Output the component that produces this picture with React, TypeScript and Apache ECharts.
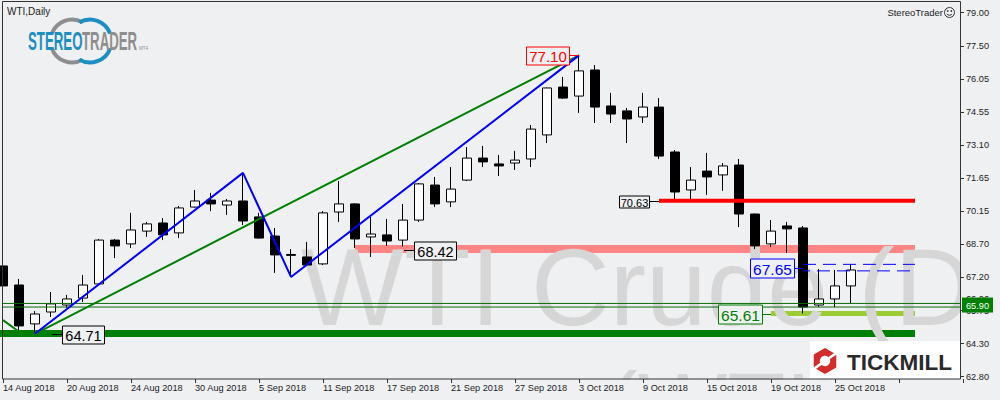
import React, { useEffect, useRef } from "react";
import * as echarts from "echarts";

// ---------- data ----------
const dates: string[] = [
  "14 Aug 2018", "15 Aug 2018", "16 Aug 2018", "17 Aug 2018", "20 Aug 2018", "21 Aug 2018", "22 Aug 2018",
  "23 Aug 2018", "24 Aug 2018", "27 Aug 2018", "28 Aug 2018", "29 Aug 2018", "30 Aug 2018", "31 Aug 2018",
  "3 Sep 2018", "4 Sep 2018", "5 Sep 2018", "6 Sep 2018", "7 Sep 2018", "10 Sep 2018", "11 Sep 2018",
  "12 Sep 2018", "13 Sep 2018", "14 Sep 2018", "17 Sep 2018", "18 Sep 2018", "19 Sep 2018", "20 Sep 2018",
  "21 Sep 2018", "24 Sep 2018", "25 Sep 2018", "26 Sep 2018", "27 Sep 2018", "28 Sep 2018",
  "1 Oct 2018", "2 Oct 2018", "3 Oct 2018", "4 Oct 2018", "5 Oct 2018", "8 Oct 2018", "9 Oct 2018",
  "10 Oct 2018", "11 Oct 2018", "12 Oct 2018", "15 Oct 2018", "16 Oct 2018", "17 Oct 2018", "18 Oct 2018",
  "19 Oct 2018", "22 Oct 2018", "23 Oct 2018", "24 Oct 2018", "25 Oct 2018", "26 Oct 2018",
];
const emptySlots = 7;

// [open, close, low, high]
const candles: number[][] = [
  [67.73, 66.84, 66.66, 68.66], [66.88, 65.06, 64.77, 67.15], [65.15, 65.59, 64.71, 65.72], [65.68, 66.04, 65.46, 66.57],
  [65.99, 66.26, 65.86, 66.44], [66.30, 66.88, 66.12, 67.33], [66.93, 68.88, 66.92, 68.93], [68.88, 68.62, 68.08, 68.93],
  [68.71, 69.33, 68.53, 70.09], [69.28, 69.60, 69.02, 69.69], [69.64, 69.11, 68.88, 69.86], [69.20, 70.31, 68.97, 70.40],
  [70.35, 70.62, 70.33, 71.11], [70.66, 70.49, 70.17, 70.98], [70.44, 70.62, 70.00, 70.71], [70.62, 69.73, 69.55, 71.87],
  [69.91, 68.97, 68.95, 70.09], [69.06, 68.22, 67.42, 69.42], [68.24, 68.20, 67.24, 68.48], [68.13, 67.77, 67.75, 68.80],
  [67.82, 70.09, 67.77, 70.17], [70.13, 70.49, 69.69, 71.51], [70.49, 68.93, 68.53, 70.52], [69.02, 69.15, 68.13, 69.91],
  [69.11, 68.84, 68.62, 69.82], [68.88, 69.77, 68.59, 70.49], [69.77, 71.38, 69.69, 71.42], [71.33, 70.49, 70.35, 71.69],
  [70.58, 71.15, 70.35, 72.13], [71.55, 72.53, 71.51, 73.02], [72.53, 72.36, 72.13, 73.07], [72.27, 72.18, 71.73, 72.67],
  [72.31, 72.44, 72.00, 72.85], [72.49, 73.82, 72.13, 74.00], [73.56, 75.65, 73.20, 75.67], [75.69, 75.20, 75.16, 76.14],
  [75.29, 76.41, 74.54, 77.10], [76.45, 74.80, 74.09, 76.67], [74.85, 74.49, 74.09, 75.43], [74.63, 74.27, 73.20, 74.76],
  [74.36, 74.80, 74.09, 75.43], [74.80, 72.62, 72.49, 75.20], [72.80, 71.02, 70.63, 72.89], [71.11, 71.55, 70.71, 72.13],
  [71.95, 71.69, 70.89, 72.76], [71.78, 72.18, 71.07, 72.31], [72.22, 70.04, 69.46, 72.49], [70.04, 68.62, 68.48, 70.06],
  [68.71, 69.28, 68.57, 69.77], [69.51, 69.38, 68.31, 69.69], [69.42, 65.90, 65.61, 69.51], [65.99, 66.26, 65.90, 67.59],
  [66.26, 66.84, 65.90, 67.55], [66.84, 67.55, 66.08, 67.82],
];

const yTickLabels = ["62.80", "64.30", "65.75", "67.20", "68.70", "70.15", "71.65", "73.10", "74.55", "76.05", "77.50", "79.00"];
const yMin = 62.8;
const yMax = 79.0;

const blueZigzag: number[][] = [[2, 64.71], [15, 71.87], [18, 67.24], [36, 77.10]];
const greenTrend: number[][] = [[0, 65.32], [1, 64.80], [2, 64.71], [36, 77.10]];
const resistance: number[][] = [[41, 70.63], [57, 70.63]];
const zoneUpper: number[][] = [[50, 67.80], [57, 67.80]];
const zoneLower: number[][] = [[50, 67.51], [57, 67.51]];
const bidAsk: number[] = [66.06, 65.90];
// [fromIndex, toIndex, top, bottom]
const bands: number[][] = [[22, 57, 68.66, 68.31], [48, 57, 65.72, 65.50], [0, 57, 64.88, 64.57]];
// [index, price]
const levelLabels: number[][] = [[36, 77.10], [41, 70.63], [25, 68.42], [50, 67.65], [48, 65.61], [3, 64.71]];
const watermarkTitle = "WTI Crude (D";
const watermarkSymbol = "(WTI)";

// ---------- styles ----------
const FONT = '"Liberation Sans", Arial, sans-serif';
const BG = "#eff0f2";
const bandColors = ["#ff8484", "#9acd32", "#008000"];
const labelStyles = [
  { color: "#ff0000", side: -1, gap: 10, w: 43, h: 18, size: 15 },
  { color: "#000000", side: -1, gap: 10, w: 30, h: 12, size: 11 },
  { color: "#000000", side: 1, gap: 11, w: 42, h: 18, size: 14.5 },
  { color: "#0000ff", side: -1, gap: 9, w: 44, h: 19, size: 15.5 },
  { color: "#008000", side: -1, gap: 9, w: 44, h: 19, size: 15.5 },
  { color: "#000000", side: 1, gap: 11, w: 42, h: 18, size: 14.5 },
];

function slit(cx: number, cy: number, angDeg: number, r0: number, r1: number, hw: number) {
  const a = (angDeg * Math.PI) / 180;
  const dx = Math.cos(a), dy = Math.sin(a);
  const nx = -dy, ny = dx;
  return [
    [cx + r0 * dx + hw * nx, cy + r0 * dy + hw * ny],
    [cx + r1 * dx + hw * nx, cy + r1 * dy + hw * ny],
    [cx + r1 * dx - hw * nx, cy + r1 * dy - hw * ny],
    [cx + r0 * dx - hw * nx, cy + r0 * dy - hw * ny],
  ];
}

function hexPoints(cx: number, cy: number, r: number) {
  const pts: number[][] = [];
  for (let k = 0; k < 6; k++) {
    const a = ((-90 + 60 * k) * Math.PI) / 180;
    pts.push([cx + r * Math.cos(a), cy + r * Math.sin(a)]);
  }
  return pts;
}

function buildOption() {
  const categories = [...dates];
  for (let k = 0; k < emptySlots; k++) categories.push("__pad" + k);
  const lastIdx = categories.length - 1;
  const yInterval = (yMax - yMin) / (yTickLabels.length - 1);

  const line = (data: number[][], color: string, width: number, type: any = "solid", extra: any = {}) => ({
    type: "line",
    data,
    symbol: "none",
    silent: true,
    z: 4,
    lineStyle: { color, width, type, ...extra },
  });

  const D = Math.PI / 180;

  return {
    animation: false,
    backgroundColor: BG,
    grid: { left: 3, right: 37, top: 12.7, bottom: 23.3, containLabel: false },
    xAxis: {
      type: "category",
      data: categories,
      boundaryGap: false,
      offset: 2.3,
      z: 7,
      axisLine: { show: false },
      axisTick: { show: true, interval: 3, length: 4, lineStyle: { color: "#333" } },
      axisLabel: {
        interval: 3,
        align: "left",
        margin: 4.5,
        fontSize: 9.2,
        fontFamily: FONT,
        color: "#222",
        formatter: (v: string) => (v.indexOf("__pad") === 0 ? "" : v),
      },
      splitLine: { show: false },
    },
    yAxis: {
      type: "value",
      position: "right",
      min: yMin,
      max: yMax,
      interval: yInterval,
      offset: -2,
      z: 7,
      axisLine: { show: false },
      axisTick: { show: true, length: 3, lineStyle: { color: "#333" } },
      axisLabel: {
        margin: 5,
        fontSize: 9.2,
        fontFamily: FONT,
        color: "#222",
        showMinLabel: true,
        showMaxLabel: true,
        formatter: (v: number) => yTickLabels[Math.round((v - yMin) / yInterval)] ?? "",
      },
      splitLine: { show: false },
    },
    graphic: [
      // watermark
      { type: "text", z: 2, silent: true, x: 301, y: 287, style: { text: watermarkTitle, fill: "#d6d6d6", fontSize: 109, fontFamily: FONT, align: "left", verticalAlign: "middle" } },
      { type: "text", z: 2, silent: true, x: 606, y: 406, style: { text: watermarkSymbol, fill: "#d6d6d6", fontSize: 95, fontFamily: FONT, align: "left", verticalAlign: "middle" } },
      // covers outside plot
      { type: "rect", z: 6, silent: true, shape: { x: 961, y: 0, width: 39, height: 400 }, style: { fill: BG } },
      { type: "rect", z: 6, silent: true, shape: { x: 0, y: 379.5, width: 1000, height: 21 }, style: { fill: BG } },
      // border
      { type: "rect", z: 7, silent: true, shape: { x: 2.5, y: 1.5, width: 958, height: 377.5 }, style: { fill: "none", stroke: "#333", lineWidth: 1 } },
      // titles
      { type: "text", z: 6, x: 7, y: 11, style: { text: "WTI,Daily", fill: "#222", fontSize: 10, fontFamily: FONT, align: "left", verticalAlign: "middle" } },
      { type: "text", z: 6, x: 943, y: 12.7, style: { text: "StereoTrader", fill: "#222", fontSize: 9.5, fontFamily: FONT, align: "right", verticalAlign: "middle" } },
      { type: "circle", z: 6, shape: { cx: 949.5, cy: 12.5, r: 5 }, style: { fill: "none", stroke: "#333", lineWidth: 1 } },
      { type: "circle", z: 6, shape: { cx: 947.7, cy: 11, r: 0.8 }, style: { fill: "#333" } },
      { type: "circle", z: 6, shape: { cx: 951.3, cy: 11, r: 0.8 }, style: { fill: "#333" } },
      { type: "arc", z: 6, shape: { cx: 949.5, cy: 12.5, r: 2.8, startAngle: 0.5, endAngle: Math.PI - 0.5, clockwise: true }, style: { fill: "none", stroke: "#333", lineWidth: 1 } },
      // StereoTrader logo
      { type: "arc", z: 6, shape: { cx: 72, cy: 41, r: 21.5, startAngle: 200 * D, endAngle: 300 * D, clockwise: true }, style: { fill: "none", stroke: "#8e8e8e", lineWidth: 4 } },
      { type: "arc", z: 6, shape: { cx: 72, cy: 41, r: 21.5, startAngle: 60 * D, endAngle: 160 * D, clockwise: true }, style: { fill: "none", stroke: "#8e8e8e", lineWidth: 4 } },
      { type: "arc", z: 6, shape: { cx: 90, cy: 41, r: 21.5, startAngle: 240 * D, endAngle: 340 * D, clockwise: true }, style: { fill: "none", stroke: "#1b8ec3", lineWidth: 4 } },
      { type: "arc", z: 6, shape: { cx: 90, cy: 41, r: 21.5, startAngle: 20 * D, endAngle: 120 * D, clockwise: true }, style: { fill: "none", stroke: "#1b8ec3", lineWidth: 4 } },
      { type: "text", z: 6, x: 28, y: 41.3, scaleX: 0.53, style: { text: "STEREO", fill: "#1b8ec3", fontSize: 25, fontWeight: "bold", fontFamily: FONT, align: "left", verticalAlign: "middle" } },
      { type: "text", z: 6, x: 82, y: 41.3, scaleX: 0.53, style: { text: "TRADER", fill: "#8e8e8e", fontSize: 25, fontWeight: "bold", fontFamily: FONT, align: "left", verticalAlign: "middle" } },
      { type: "text", z: 6, x: 139, y: 48, style: { text: "MT4", fill: "#8e8e8e", fontSize: 4.5, fontFamily: FONT, align: "left", verticalAlign: "middle" } },
      // Tickmill logo
      { type: "rect", z: 6, silent: true, shape: { x: 810, y: 341, width: 150.5, height: 38 }, style: { fill: "#ffffff" } },
      { type: "polygon", z: 6, shape: { points: hexPoints(825, 361, 13) }, style: { fill: "#d42b2b" } },
      { type: "circle", z: 6, shape: { cx: 825, cy: 361, r: 5.2 }, style: { fill: "#ffffff" } },
      { type: "polygon", z: 6, shape: { points: slit(825, 361, -35, 3, 15, 1.3) }, style: { fill: "#ffffff" } },
      { type: "polygon", z: 6, shape: { points: slit(825, 361, 145, 3, 15, 1.3) }, style: { fill: "#ffffff" } },
      { type: "text", z: 6, x: 847, y: 362, style: { text: "TICKMILL", fill: "#2a2a2a", fontSize: 22.5, fontWeight: "bold", fontFamily: FONT, align: "left", verticalAlign: "middle" } },
    ],
    series: [
      {
        type: "custom",
        name: "zones",
        z: 1,
        silent: true,
        clip: false,
        encode: { x: [0, 1], y: [2, 3] },
        data: bands,
        renderItem: (params: any, api: any) => {
          const x0 = api.value(0), x1 = api.value(1);
          const p0 = api.coord([x0, api.value(2)]);
          const p1 = api.coord([x1, api.value(3)]);
          const left = x0 === 0 ? p0[0] - 3 : p0[0];
          return {
            type: "rect",
            shape: { x: left, y: p0[1], width: p1[0] - left, height: p1[1] - p0[1] },
            style: { fill: bandColors[params.dataIndex] },
          };
        },
      },
      {
        type: "candlestick",
        name: "WTI",
        z: 3,
        clip: false,
        silent: true,
        barWidth: 9.5,
        data: candles,
        itemStyle: { color: "#ffffff", color0: "#000000", borderColor: "#000000", borderColor0: "#000000", borderWidth: 1 },
      },
      line([[0, bidAsk[0]], [lastIdx, bidAsk[0]]], "#0a6e0a", 1),
      line([[0, bidAsk[1]], [lastIdx, bidAsk[1]]], "#0a6e0a", 1),
      line(resistance, "#ff0000", 4),
      line(zoneUpper, "#0000ff", 1, [13, 7]),
      line(zoneLower, "#0000ff", 1, [13, 7], { dashOffset: 6 }),
      line(greenTrend, "#008000", 2),
      line(blueZigzag, "#0000ff", 2),
      {
        type: "custom",
        name: "levels",
        z: 5,
        silent: true,
        clip: false,
        data: levelLabels,
        renderItem: (params: any, api: any) => {
          const st = labelStyles[params.dataIndex];
          const v = api.value(1) as number;
          const pt = api.coord([api.value(0), v]);
          const ax = pt[0], ay = Math.round(pt[1]) + 0.5;
          const bx = Math.round(st.side < 0 ? ax - st.gap - st.w : ax + st.gap) + 0.5;
          const by = Math.round(ay - st.h / 2);
          const lx0 = st.side < 0 ? ax : ax + 1;
          const lx1 = st.side < 0 ? ax - st.gap : ax + st.gap;
          return {
            type: "group",
            children: [
              { type: "line", shape: { x1: lx0, y1: ay, x2: lx1, y2: ay }, style: { stroke: st.color, lineWidth: 1 } },
              { type: "rect", shape: { x: bx, y: by, width: st.w, height: st.h }, style: { fill: BG, stroke: st.color, lineWidth: 1 } },
              {
                type: "text",
                style: {
                  text: v.toFixed(2), x: bx + st.w / 2, y: by + st.h / 2 + 0.5, fill: st.color,
                  fontSize: st.size, fontFamily: FONT, align: "center", verticalAlign: "middle",
                  textAlign: "center", textVerticalAlign: "middle",
                },
              },
            ],
          };
        },
      },
      {
        type: "custom",
        name: "price",
        z: 8,
        silent: true,
        clip: false,
        data: bidAsk.map((v) => [lastIdx, v]),
        renderItem: (params: any, api: any) => {
          const v = api.value(1) as number;
          const pt = api.coord([api.value(0), v]);
          if (params.dataIndex === 0) {
            return {
              type: "text",
              style: { text: v.toFixed(2), x: pt[0] + 3, y: pt[1] - 4.5, fill: "#222", fontSize: 9.2, fontFamily: FONT, align: "left", verticalAlign: "middle", textAlign: "left", textVerticalAlign: "middle" },
            };
          }
          return {
            type: "group",
            children: [
              { type: "rect", shape: { x: pt[0] - 1, y: pt[1] - 9.5, width: 31, height: 15 }, style: { fill: "#008000" } },
              { type: "text", style: { text: v.toFixed(2), x: pt[0] + 3, y: pt[1] - 1, fill: "#ffffff", fontSize: 9.2, fontFamily: FONT, align: "left", verticalAlign: "middle", textAlign: "left", textVerticalAlign: "middle" } },
            ],
          };
        },
      },
    ],
  };
}

export default function App() {
  const ref = useRef<HTMLDivElement>(null);
  useEffect(() => {
    document.body.style.margin = "0";
    const chart = echarts.init(ref.current as HTMLDivElement, null, { renderer: "svg" });
    chart.setOption(buildOption() as any);
    return () => chart.dispose();
  }, []);
  return <div ref={ref} style={{ width: 1000, height: 400 }} />;
}
